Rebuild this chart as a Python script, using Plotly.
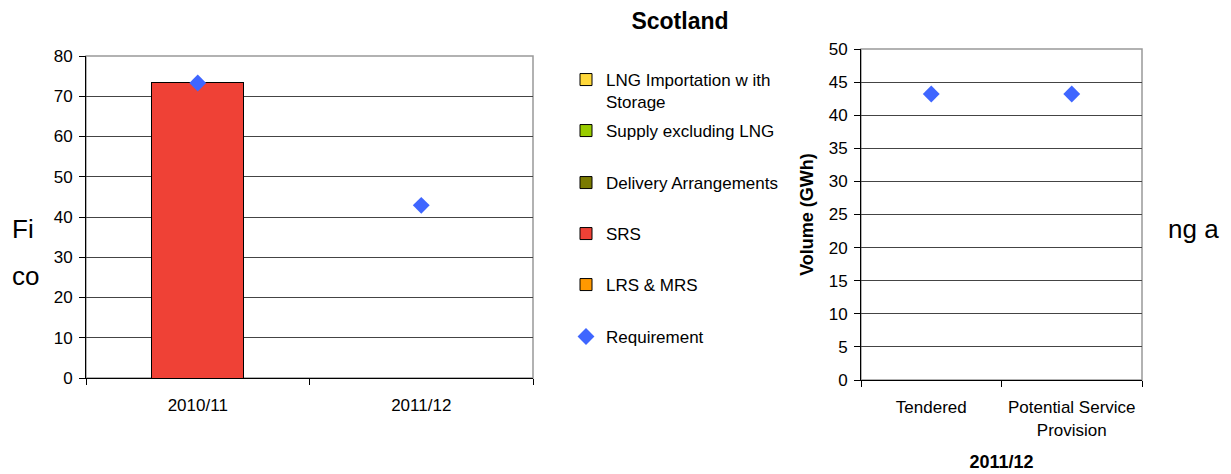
import plotly.graph_objects as go

# ---- data ----
years = ["2010/11", "2011/12"]
lng_importation = [None, None]
supply_excl_lng = [None, None]
delivery_arrangements = [None, None]
srs = [73.5, None]
lrs_mrs = [None, None]
requirement_left = [73.3, 42.9]

right_categories = ["Tendered", "Potential Service<br>Provision"]
requirement_right = [43.2, 43.2]

series_names = ["LNG Importation w ith<br>Storage", "Supply excluding LNG",
                "Delivery Arrangements", "SRS", "LRS & MRS"]
series_values = [lng_importation, supply_excl_lng, delivery_arrangements, srs, lrs_mrs]
series_colors = ["#FFD83A", "#99CC00", "#7A7A00", "#EF4136", "#FF9900"]

W, H = 1231, 474
FONT = "Liberation Sans, Arial, sans-serif"

def px_x(p):
    return p / W

def px_y(p):
    return 1 - p / H

# legend centre positions (pixels from top)
legend_y = [91, 131, 183, 234, 285, 337]

fig = go.Figure()
for i, (name, vals, col) in enumerate(zip(series_names, series_values, series_colors)):
    fig.add_trace(go.Bar(
        x=years, y=vals, name=name,
        marker=dict(color=col, line=dict(color="black", width=1)),
        width=0.41, xaxis="x", yaxis="y",
        legend="legend" if i == 0 else f"legend{i+1}",
    ))

fig.add_trace(go.Scatter(
    x=years, y=requirement_left, name="Requirement", mode="markers",
    marker=dict(symbol="diamond", size=13, color="#3F66FF"),
    xaxis="x", yaxis="y", legend="legend6",
))
fig.add_trace(go.Scatter(
    x=right_categories, y=requirement_right, name="Requirement", mode="markers",
    marker=dict(symbol="diamond", size=13, color="#3F66FF"),
    xaxis="x2", yaxis="y2", showlegend=False,
))

tickfont = dict(family=FONT, size=17, color="black")
grid = "#444444"

layout = dict(
    width=W, height=H,
    margin=dict(l=0, r=0, t=0, b=0, autoexpand=False),
    paper_bgcolor="white", plot_bgcolor="white",
    barmode="stack",
    font=dict(family=FONT, size=17, color="black"),
    xaxis=dict(domain=[px_x(86), px_x(533)], range=[-0.5, 1.5], showline=True,
               linecolor="black", ticks="outside", ticklen=6, tickcolor="black",
               tickson="boundaries", tickfont=tickfont, showgrid=False,
               ticklabelstandoff=12, automargin=False),
    yaxis=dict(domain=[px_y(378), px_y(56)], range=[0, 80], dtick=10,
               showline=True, linecolor="black", ticks="outside", ticklen=6,
               tickcolor="black", tickfont=tickfont, showgrid=True,
               gridcolor=grid, gridwidth=1, zeroline=False,
               ticklabelstandoff=3, automargin=False),
    xaxis2=dict(domain=[px_x(861), px_x(1142)], anchor="y2", range=[-0.5, 1.5],
                showline=True, linecolor="black", ticks="outside", ticklen=6,
                tickcolor="black", tickson="boundaries", tickfont=tickfont,
                showgrid=False, ticklabelstandoff=12, automargin=False,
                title=dict(text="<b>2011/12</b>", font=dict(family=FONT, size=18),
                           standoff=16)),
    yaxis2=dict(domain=[px_y(380), px_y(49)], anchor="x2", range=[0, 50], dtick=5,
                showline=True, linecolor="black", ticks="outside", ticklen=6,
                tickcolor="black", tickfont=tickfont, showgrid=True,
                gridcolor=grid, gridwidth=1, zeroline=False,
                ticklabelstandoff=3, automargin=False,
                title=dict(text="<b>Volume (GWh)</b>", font=dict(family=FONT, size=18),
                           standoff=10)),
    showlegend=True,
    title=dict(text="<b>Scotland</b>", x=px_x(680), xanchor="center",
               y=px_y(21), yanchor="middle",
               font=dict(family=FONT, size=23, color="black")),
)

for i, yy in enumerate(legend_y):
    key = "legend" if i == 0 else f"legend{i+1}"
    layout[key] = dict(x=px_x(606 - 40), xanchor="left", y=px_y(yy), yanchor="middle",
                       bgcolor="rgba(0,0,0,0)", borderwidth=0,
                       font=dict(family=FONT, size=17, color="black"),
                       valign="top")

fig.update_layout(**layout)

# plot-area frames (grey top/right borders)
for xr, yr in [("x domain", "y domain"), ("x2 domain", "y2 domain")]:
    fig.add_shape(type="rect", xref=xr, yref=yr, x0=0, x1=1, y0=0, y1=1,
                  line=dict(color="#999999", width=1.5), layer="below")

# background document text partially visible behind the charts
for txt, x, y in [("Fi", 10, 229), ("co", 10, 276), ("ng a", 1166, 229)]:
    fig.add_annotation(text=txt, xref="paper", yref="paper", x=px_x(x), y=px_y(y),
                       xanchor="left", yanchor="middle", showarrow=False,
                       font=dict(family=FONT, size=26, color="black"))

fig.write_html("out.html")
